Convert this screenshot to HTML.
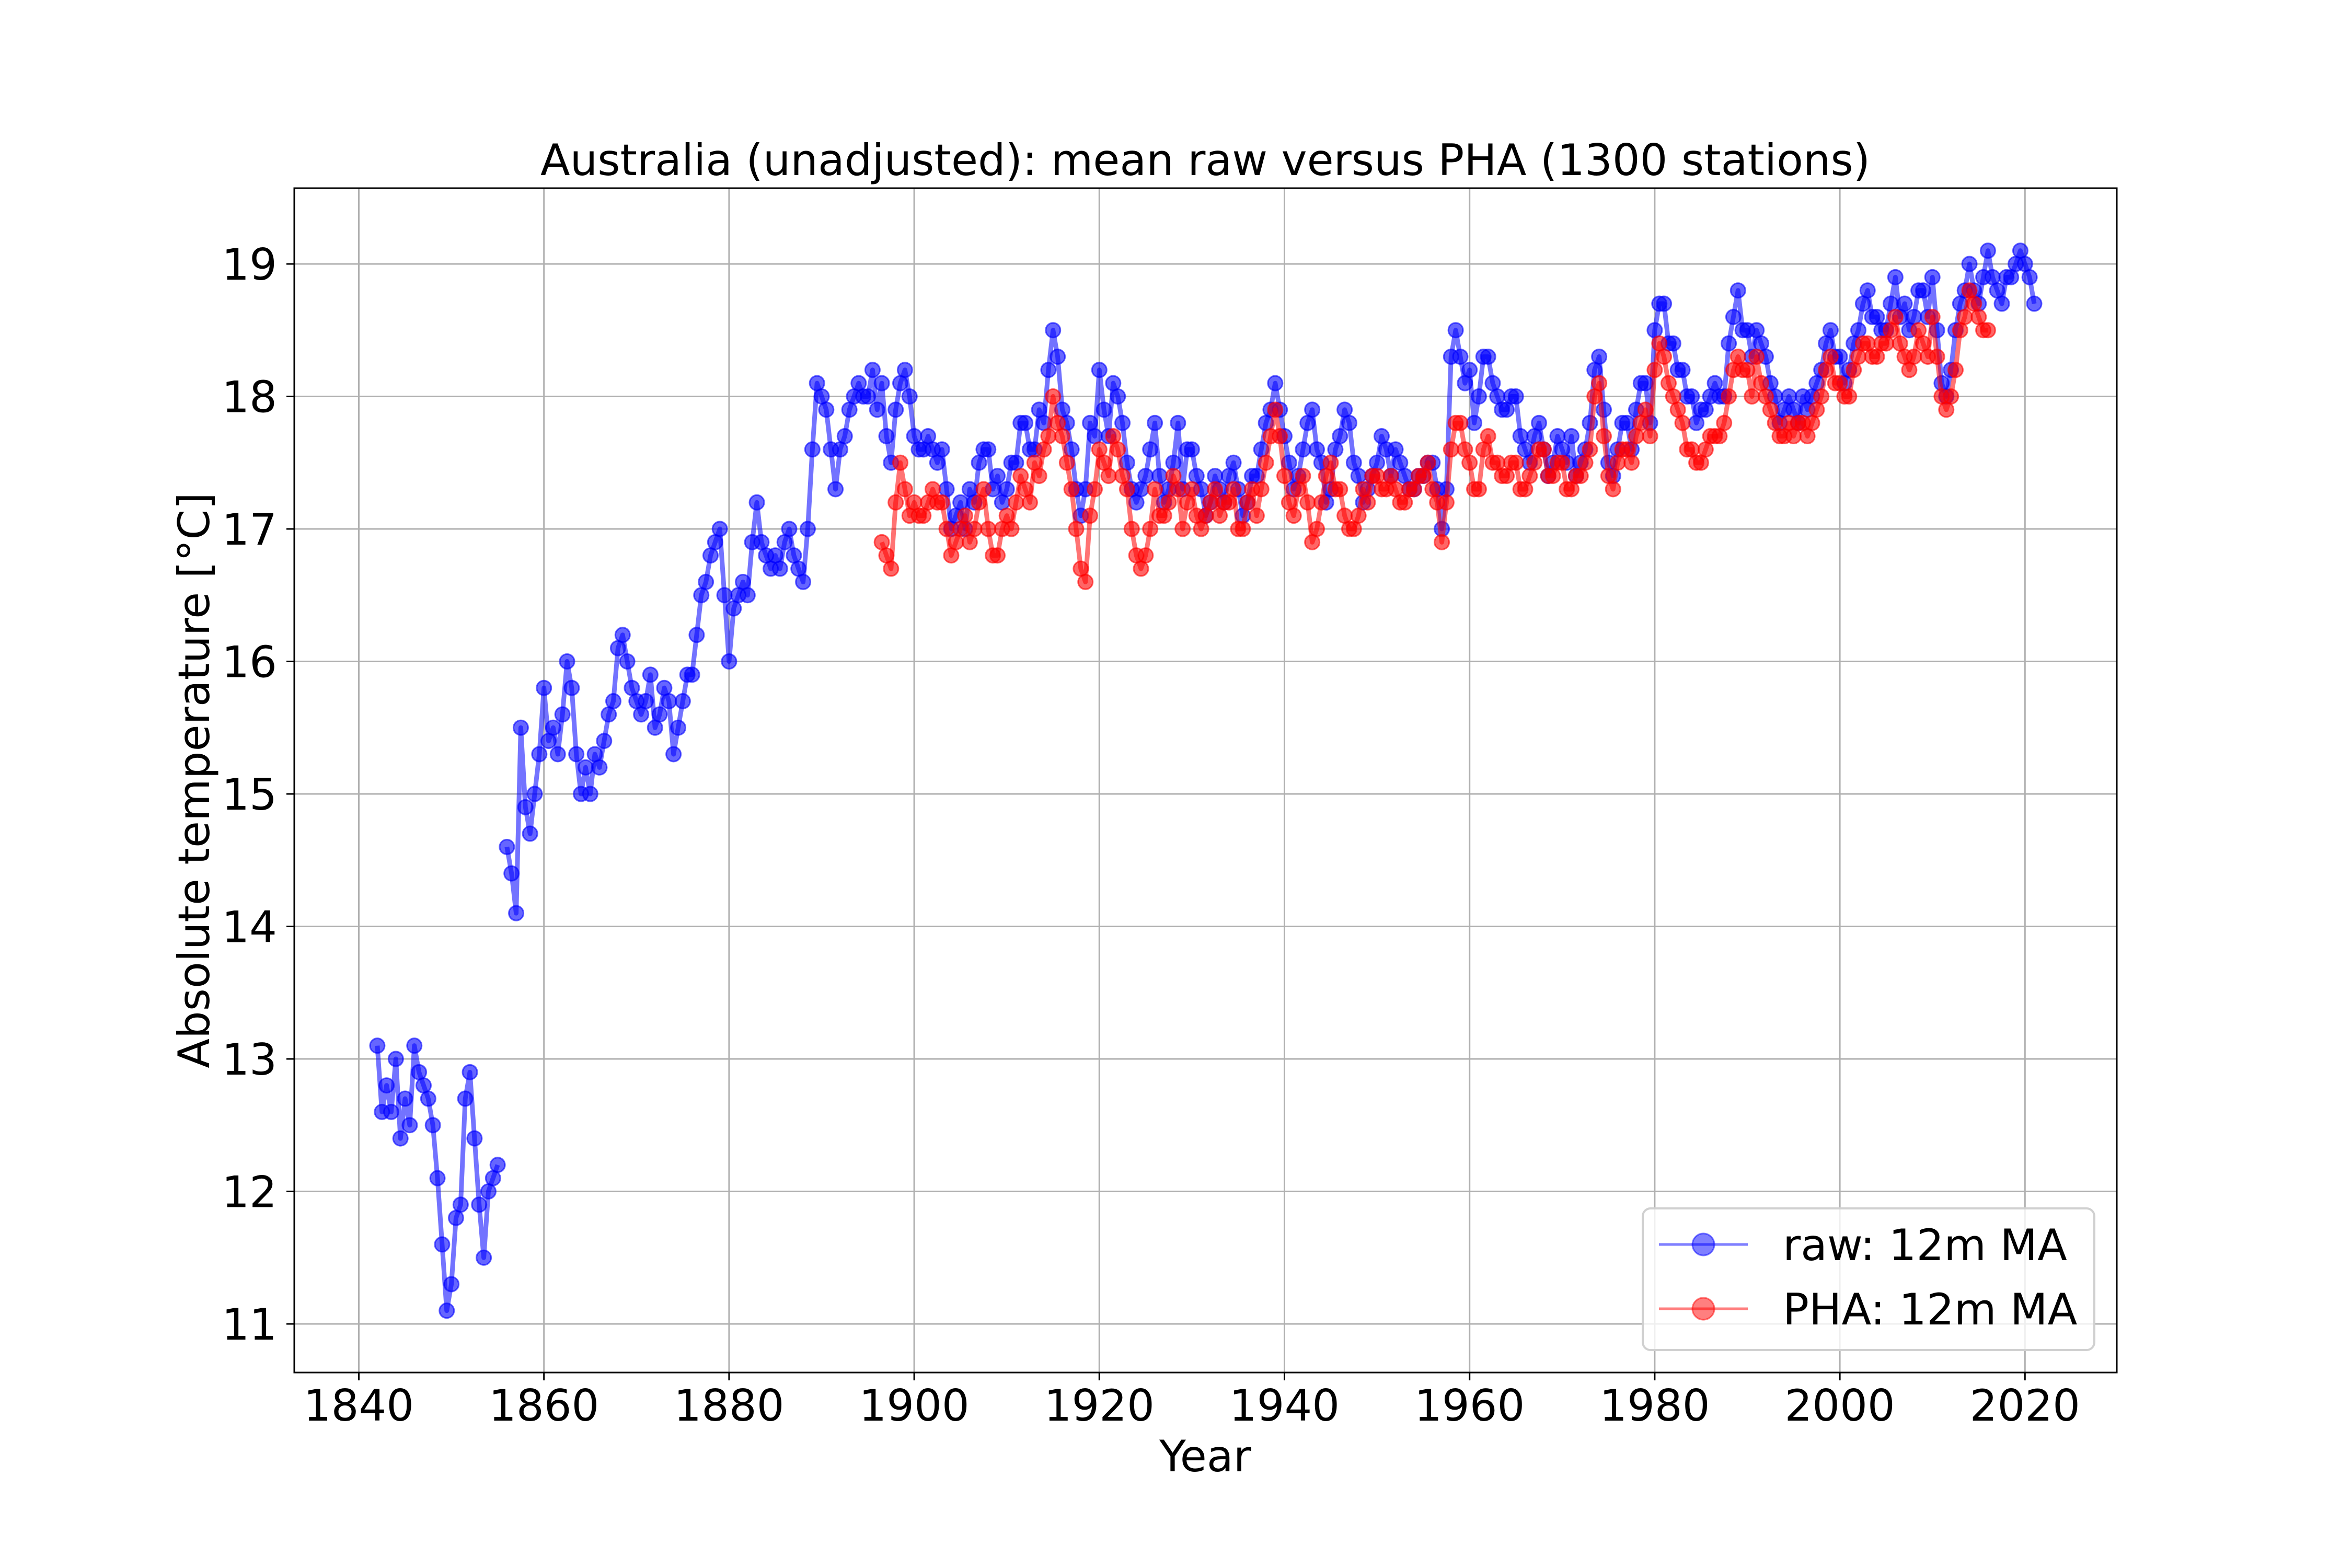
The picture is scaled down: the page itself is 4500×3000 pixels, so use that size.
<!DOCTYPE html>
<html><head><meta charset="utf-8"><style>html,body{margin:0;padding:0;background:#fff}svg{display:block}text{font-family:"DejaVu Sans","Liberation Sans",sans-serif;fill:#000}</style></head>
<body>
<svg id="chart" width="4500" height="3000" viewBox="0 0 4500 3000" xmlns="http://www.w3.org/2000/svg">
<rect width="4500" height="3000" fill="#fff"/>
<g id="grid"></g>
<g id="series"></g>
<g id="axes"></g>
<text x="2306" y="335" font-size="83" text-anchor="middle">Australia (unadjusted): mean raw versus PHA (1300 stations)</text>
<text x="2306" y="2815" font-size="83" text-anchor="middle">Year</text>
<text x="400" y="1493" font-size="83" text-anchor="middle" transform="rotate(-90 400 1493)">Absolute temperature [°C]</text>
<g>
<rect x="3143" y="2312" width="864" height="271" rx="15" fill="#fff" fill-opacity="0.8" stroke="#d0d0d0" stroke-width="4"/>
<g>
<line x1="3174" y1="2381" x2="3344" y2="2381" stroke="#0000ff" stroke-opacity="0.5" stroke-width="5"/>
<circle cx="3259" cy="2381" r="21" fill="#0000ff" fill-opacity="0.5" stroke="#0000ff" stroke-opacity="0.5" stroke-width="3"/>
<text x="3411" y="2411" font-size="83">raw: 12m MA</text>
</g>
<g>
<line x1="3174" y1="2504" x2="3344" y2="2504" stroke="#ff0000" stroke-opacity="0.5" stroke-width="5"/>
<circle cx="3259" cy="2504" r="21" fill="#ff0000" fill-opacity="0.5" stroke="#ff0000" stroke-opacity="0.5" stroke-width="3"/>
<text x="3411" y="2534" font-size="83">PHA: 12m MA</text>
</g>
</g>
</svg>
<script>
const xTicks = [1840,1860,1880,1900,1920,1940,1960,1980,2000,2020];
const yTicks = [11,12,13,14,15,16,17,18,19];
const rawStart = 1842.0;
const rawValues = [
13.1,12.6,12.8,12.6,13.0,12.4,12.7,12.5,13.1,12.9,12.8,12.7,12.5,12.1,11.6,11.1,11.3,11.8,11.9,12.7,12.9,12.4,11.9,11.5,12.0,12.1,12.2,null,
14.6,14.4,14.1,15.5,14.9,14.7,15.0,15.3,15.8,15.4,15.5,15.3,15.6,16.0,15.8,15.3,15.0,15.2,15.0,15.3,15.2,15.4,15.6,15.7,16.1,16.2,16.0,15.8,15.7,15.6,15.7,15.9,15.5,15.6,15.8,15.7,15.3,15.5,15.7,15.9,
15.9,16.2,16.5,16.6,16.8,16.9,17.0,16.5,16.0,16.4,16.5,16.6,16.5,16.9,17.2,16.9,16.8,16.7,16.8,16.7,16.9,17.0,16.8,16.7,16.6,17.0,17.6,18.1,18.0,17.9,17.6,17.3,17.6,17.7,17.9,18.0,18.1,18.0,18.0,18.2,17.9,18.1,17.7,17.5,17.9,18.1,18.2,18.0,
17.7,17.6,17.6,17.7,17.6,17.5,17.6,17.3,17.0,17.1,17.2,17.0,17.3,17.2,17.5,17.6,17.6,17.3,17.4,17.2,17.3,17.5,17.5,17.8,17.8,17.6,17.6,17.9,17.8,18.2,18.5,18.3,17.9,17.8,17.6,17.3,17.1,17.3,17.8,17.7,
18.2,17.9,17.7,18.1,18.0,17.8,17.5,17.3,17.2,17.3,17.4,17.6,17.8,17.4,17.2,17.3,17.5,17.8,17.3,17.6,17.6,17.4,17.3,17.1,17.2,17.4,17.3,17.2,17.4,17.5,17.3,17.1,17.2,17.4,17.4,17.6,17.8,17.9,18.1,17.9,
17.7,17.5,17.3,17.4,17.6,17.8,17.9,17.6,17.5,17.2,17.3,17.6,17.7,17.9,17.8,17.5,17.4,17.2,17.3,17.4,17.5,17.7,17.6,17.4,17.6,17.5,17.4,17.3,17.3,17.4,17.4,17.5,17.5,17.3,17.0,17.3,18.3,18.5,18.3,18.1,
18.2,17.8,18.0,18.3,18.3,18.1,18.0,17.9,17.9,18.0,18.0,17.7,17.6,17.5,17.7,17.8,17.6,17.4,17.5,17.7,17.6,17.5,17.7,17.4,17.5,17.6,17.8,18.2,18.3,17.9,17.5,17.4,17.6,17.8,17.8,17.6,17.9,18.1,18.1,17.8,
18.5,18.7,18.7,18.4,18.4,18.2,18.2,18.0,18.0,17.8,17.9,17.9,18.0,18.1,18.0,18.0,18.4,18.6,18.8,18.5,18.5,18.3,18.5,18.4,18.3,18.1,18.0,17.8,17.9,18.0,17.9,17.8,18.0,17.9,18.0,18.1,18.2,18.4,18.5,18.3,
18.3,18.1,18.2,18.4,18.5,18.7,18.8,18.6,18.6,18.5,18.5,18.7,18.9,18.6,18.7,18.5,18.6,18.8,18.8,18.6,18.9,18.5,18.1,18.0,18.2,18.5,18.7,18.8,19.0,18.8,18.7,18.9,19.1,18.9,18.8,18.7,18.9,18.9,19.0,19.1,
19.0,18.9,18.7
];
const phaStart = 1896.5;
const phaValues = [
16.9,16.8,16.7,17.2,17.5,17.3,17.1,
17.2,17.1,17.1,17.2,17.3,17.2,17.2,17.0,16.8,16.9,17.0,17.1,16.9,17.0,17.2,17.3,17.0,16.8,16.8,17.0,17.1,17.0,17.2,17.4,17.3,17.2,17.5,17.4,17.6,17.7,18.0,17.8,17.7,17.5,17.3,17.0,16.7,16.6,17.1,17.3,
17.6,17.5,17.4,17.7,17.6,17.4,17.3,17.0,16.8,16.7,16.8,17.0,17.3,17.1,17.1,17.2,17.4,17.3,17.0,17.2,17.3,17.1,17.0,17.1,17.2,17.3,17.1,17.2,17.2,17.3,17.0,17.0,17.2,17.3,17.1,17.3,17.5,17.7,17.9,17.7,
17.4,17.2,17.1,17.3,17.4,17.2,16.9,17.0,17.2,17.4,17.5,17.3,17.3,17.1,17.0,17.0,17.1,17.3,17.2,17.4,17.4,17.3,17.3,17.4,17.3,17.2,17.2,17.3,17.3,17.4,17.4,17.5,17.3,17.2,16.9,17.2,17.6,17.8,17.8,17.6,
17.5,17.3,17.3,17.6,17.7,17.5,17.5,17.4,17.4,17.5,17.5,17.3,17.3,17.4,17.5,17.6,17.6,17.4,17.4,17.5,17.5,17.3,17.3,17.4,17.4,17.5,17.6,18.0,18.1,17.7,17.4,17.3,17.5,17.6,17.6,17.5,17.7,17.8,17.9,17.7,
18.2,18.4,18.3,18.1,18.0,17.9,17.8,17.6,17.6,17.5,17.5,17.6,17.7,17.7,17.7,17.8,18.0,18.2,18.3,18.2,18.2,18.0,18.3,18.1,18.0,17.9,17.8,17.7,17.7,17.8,17.7,17.8,17.8,17.7,17.8,17.9,18.0,18.2,18.3,18.1,
18.1,18.0,18.0,18.2,18.3,18.4,18.4,18.3,18.3,18.4,18.4,18.5,18.6,18.4,18.3,18.2,18.3,18.5,18.4,18.3,18.6,18.3,18.0,17.9,18.0,18.2,18.5,18.6,18.8,18.7,18.6,18.5,18.5
];
const step = 0.5;

const NS = 'http://www.w3.org/2000/svg';
const L = 563, R = 4050, T = 360, B = 2626;
function xs(year){ return 686.5 + (year - 1840) * 17.71; }
function ys(v){ return 2533 - (v - 11) * 253.5; }
function mk(tag, attrs, parent){
  const e = document.createElementNS(NS, tag);
  for (const k in attrs) e.setAttribute(k, attrs[k]);
  parent.appendChild(e);
  return e;
}
const grid = document.getElementById('grid');
const axes = document.getElementById('axes');
const series = document.getElementById('series');

xTicks.forEach(t => {
  const x = xs(t);
  const g = mk('line', {x1:x, y1:T, x2:x, y2:B, stroke:'#b0b0b0', 'stroke-width':3}, grid);
  
  
  const tk = mk('line', {x1:x, y1:B, x2:x, y2:B+15, stroke:'#000', 'stroke-width':3}, axes);
  
  
  const lb = mk('text', {x:x, y:2718, 'font-size':83, 'text-anchor':'middle'}, axes);
  lb.textContent = t;
  
  
});
yTicks.forEach(t => {
  const y = ys(t);
  const g = mk('line', {x1:L, y1:y, x2:R, y2:y, stroke:'#b0b0b0', 'stroke-width':3}, grid);
  
  
  const tk = mk('line', {x1:L-15, y1:y, x2:L, y2:y, stroke:'#000', 'stroke-width':3}, axes);
  
  
  const lb = mk('text', {x:530, y:y+30, 'font-size':83, 'text-anchor':'end'}, axes);
  lb.textContent = t;
  
  
});
const frame = mk('rect', {x:L, y:T, width:R-L, height:B-T, fill:'none', stroke:'#000', 'stroke-width':3}, axes);



function drawSeries(start, vals, color, name){
  const g = mk('g', {}, series);
  
  
  let seg = [];
  const segs = [];
  vals.forEach((v, i) => {
    if (v === null) { if (seg.length) segs.push(seg); seg = []; return; }
    seg.push([xs(start + i * step), ys(v)]);
  });
  if (seg.length) segs.push(seg);
  segs.forEach(s => {
    const pl = mk('polyline', {points:s.map(p => p.join(',')).join(' '), fill:'none', stroke:color, 'stroke-opacity':0.55, 'stroke-width':9, 'stroke-linejoin':'round'}, g);
    
    
  });
  vals.forEach((v, i) => {
    if (v === null) return;
    const c = mk('circle', {cx:xs(start + i * step), cy:ys(v), r:14, fill:color, 'fill-opacity':0.6, stroke:color, 'stroke-opacity':0.6, 'stroke-width':3}, g);
    
    
  });
}
drawSeries(rawStart, rawValues, '#0000ff', 'raw-series');
drawSeries(phaStart, phaValues, '#ff0000', 'pha-series');
</script>
</body></html>
